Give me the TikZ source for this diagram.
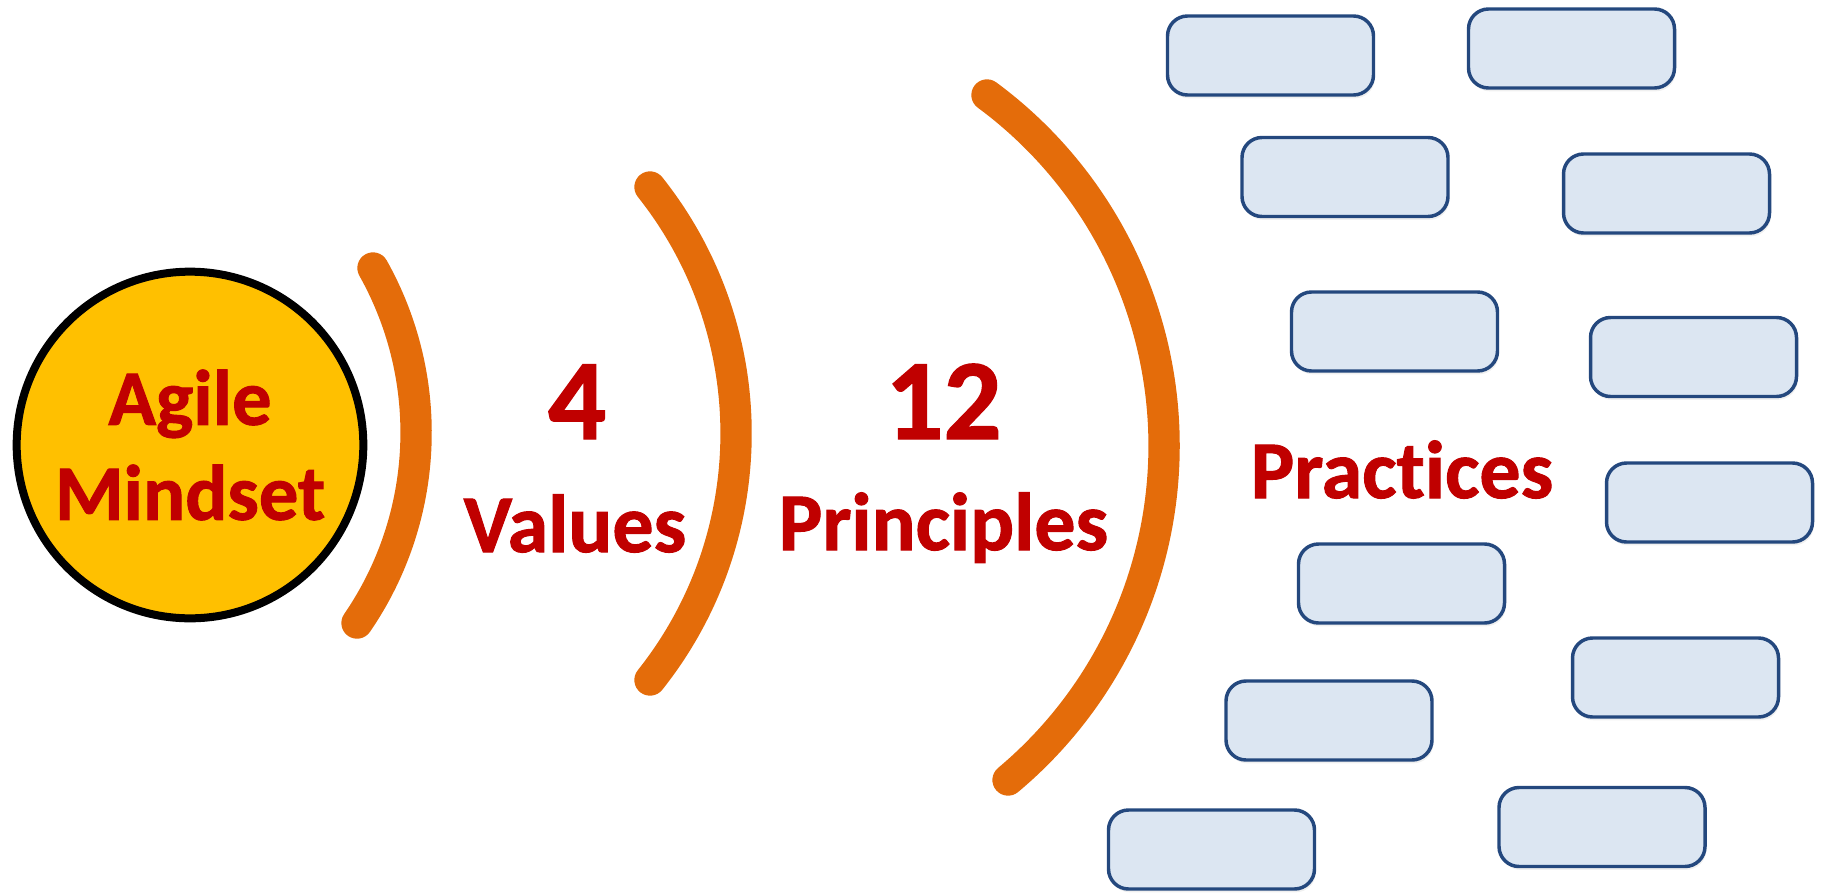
\documentclass[tikz,border=0pt]{standalone}
\usepackage{fontspec}
\setmainfont{Carlito}[BoldFont={Carlito Bold}, BoldFeatures={FakeBold=1.2}, Ligatures={NoCommon}]
\usetikzlibrary{positioning,shadows}
\usepackage{xcolor}

\definecolor{agilered}{RGB}{192,0,0}
\definecolor{ringorange}{RGB}{228,108,10}
\definecolor{mindgold}{RGB}{255,192,0}
\definecolor{practicefill}{RGB}{220,230,242}
\definecolor{practiceline}{RGB}{36,72,126}

\begin{document}
\begin{tikzpicture}[
    x=0.75pt, y=-0.75pt, % one unit is one pixel, y downwards
    mindset/.style={circle, draw=black, line width=6pt, fill=mindgold, minimum size=260pt, inner sep=0pt, align=center, text=agilered, font=\fontsize{59pt}{71.25pt}\selectfont\bfseries},
    count/.style={anchor=base, inner sep=0pt, text=agilered, font=\fontsize{86pt}{100pt}\selectfont\bfseries},
    word/.style={anchor=base, inner sep=0pt, text=agilered, font=\fontsize{61.5pt}{72pt}\selectfont\bfseries},
    practice/.style={rectangle, rounded corners=15pt, draw=practiceline, line width=2.6pt, fill=practicefill, minimum width=154.5pt, minimum height=59.25pt, drop shadow={shadow xshift=1pt, shadow yshift=-2.5pt, opacity=0.12}},
    ring/.style={draw=ringorange, line width=23.5pt, line cap=round} % Orange arcs
]
    \useasboundingbox (0,0) rectangle (1821,893);

    % Nodes
    \node (mind) [mindset] at (190,445) {Agile\\Mindset};
    \node (four) [count] at (577,439) {4};
    \node (values) [word] at (575,552) {Values};
    \node (twelve) [count] at (943.5,439) {12};
    \node (principles) [word] at (943.5,550) {Principles};
    \node (practices) [word] at (1402,498) {Practices};

    % Arcs
    \coordinate (ringA) at (373,268);
    \coordinate (ringB) at (650,187);
    \coordinate (ringC) at (987,95);
    \draw [ring] (ringA) arc[start angle=-29.33, end angle=34.49, radius=336.2];
    \draw [ring] (ringB) arc[start angle=-38.5, end angle=38.5, radius=396];
    \draw [ring] (ringC) arc[start angle=-53.57, end angle=50.05, radius=436];

    % Practice boxes
    \foreach \px/\py [count=\i] in {1270.5/55.5, 1571.5/48.5, 1345/177, 1666.5/193.5,
        1394.5/331.5, 1693.5/357, 1709.5/502.5, 1401.5/583.5,
        1675.5/677.5, 1329/720.5, 1211.5/849.5, 1602/827}
        \node (practice\i) [practice] at (\px,\py) {};

\end{tikzpicture}
\end{document}
